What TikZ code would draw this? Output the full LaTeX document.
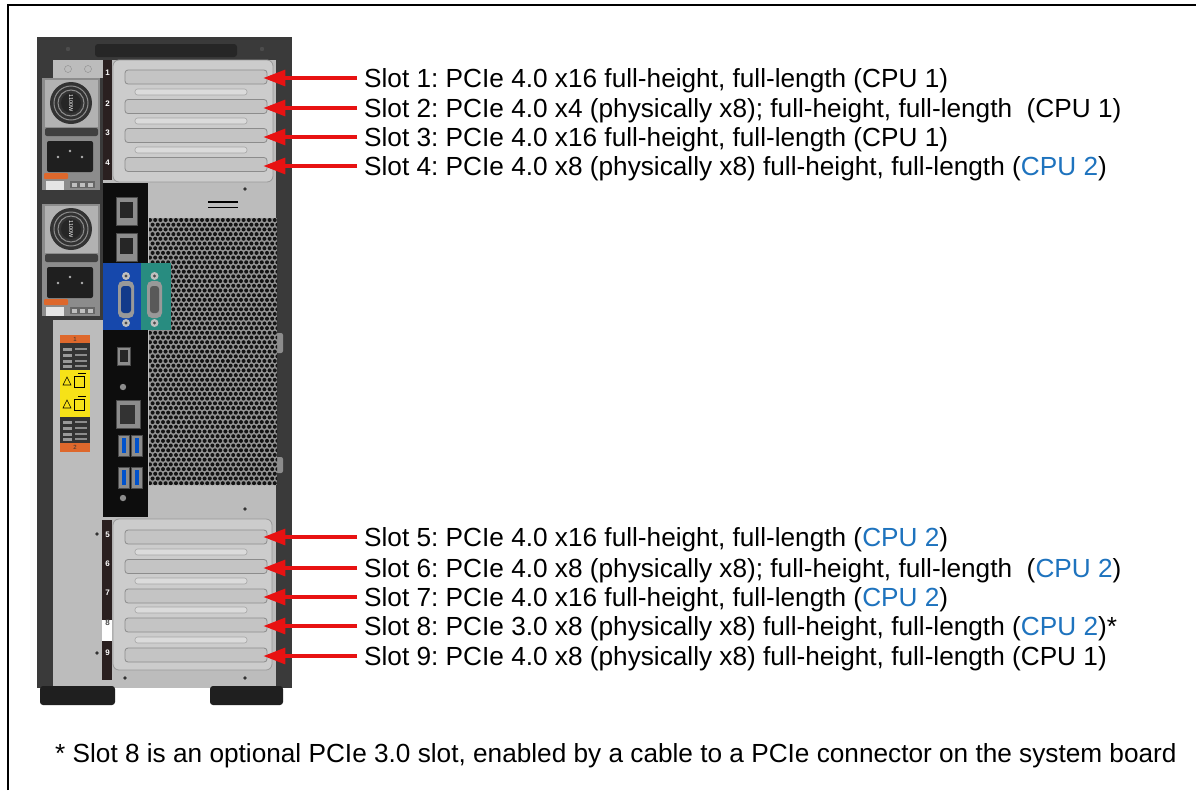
\documentclass[tikz,border=0pt]{standalone}
\usepackage{fontspec}
\setmainfont{Liberation Sans}
\usetikzlibrary{arrows.meta}
\frenchspacing
\definecolor{arrowred}{RGB}{232,18,18}
\definecolor{cpublue}{RGB}{30,115,190}
\definecolor{chdark}{RGB}{58,58,58}
\definecolor{chlight}{RGB}{188,188,188}
\definecolor{baygray}{RGB}{204,204,204}
\definecolor{bracketgray}{RGB}{196,196,196}
\definecolor{vgablue}{RGB}{22,72,172}
\definecolor{serteal}{RGB}{40,140,128}
\definecolor{stkorange}{RGB}{222,104,44}
\definecolor{stkyellow}{RGB}{246,226,24}
\definecolor{stripdark}{RGB}{42,32,32}
\newcommand{\cputwo}{\textcolor{cpublue}{CPU 2}}
\tikzset{
  lbl/.style={anchor=west, font=\fontsize{26.2}{30}\selectfont, text height=18.8pt, text depth=0pt, inner ysep=0pt, inner xsep=7pt},
  ptr/.style={draw=arrowred, line width=3.3pt, -{Triangle[length=22pt,width=16pt]}},
  bracket/.style={draw=black!45, fill=bracketgray, rounded corners=3pt, line width=0.8pt, minimum width=142pt, minimum height=14pt, inner sep=0pt},
  bar/.style={draw=black!35, fill=black!14, rounded corners=2.5pt, line width=0.6pt},
  slotnum/.style={text=white, font=\fontsize{8}{8}\selectfont\bfseries, inner sep=0pt},
  meshdot/.style={fill=black!92},
  port/.style={fill=black!45, draw=black!70, line width=0.5pt},
  screw/.style={fill=black!80},
}
\begin{document}
\begin{tikzpicture}[x=1pt,y=-1pt]
\useasboundingbox (0,0) rectangle (1196,790);
\fill[white] (0,0) rectangle (1196,790);
% frame
\draw[line width=2pt] (8,790) -- (8,5) -- (1196,5);

% ---------- chassis ----------
\fill[chdark] (37,37) rectangle (292,688);
\fill[chlight] (53,60) rectangle (276,688);
\fill[chdark] (37,60) rectangle (103,320);
% handle recess on top band
\fill[black!85, rounded corners=3pt] (95,44) rectangle (237,57);
\fill[black!70] (68,49) circle (2.2);
\fill[black!70] (262,49) circle (2.2);
\fill[chlight] (53,60) rectangle (103,78);
\draw[black!45] (68,69) circle (3.5);
\draw[black!45] (88,69) circle (3.5);
% right side details
\fill[black!45, rounded corners=2pt] (276,333) rectangle (283,353);
\fill[black!45, rounded corners=2pt] (276,457) rectangle (283,473);
% feet
\fill[black!88, rounded corners=3pt] (40,686) rectangle (115,705);
\fill[black!88, rounded corners=3pt] (210,686) rectangle (283,705);

% ---------- power supplies ----------
\foreach \dy in {0,126}{
  \begin{scope}[yshift=-\dy pt]
    \fill[black!45] (42,78) rectangle (100,190);
    \fill[black!30] (45,80) rectangle (98,127);
    \fill[black!80] (71,103) circle (21);
    \foreach \rr in {17,13}{ \draw[black!45, line width=1pt] (71,103) circle (\rr); }
    \fill[black!85] (71,103) circle (10);
    \node[rotate=-90, text=white, font=\fontsize{5.5}{6}\selectfont, inner sep=0pt] at (71,103) {1100W};
    \fill[black!75, rounded corners=2pt] (45,128) rectangle (98,136);
    \fill[black!88, rounded corners=2pt] (47,141) rectangle (93,172);
    \fill[white!70!black] (58,157) circle (1.3);
    \fill[white!70!black] (82,157) circle (1.3);
    \fill[white!70!black] (70,151) circle (1.3);
    \fill[stkorange, rounded corners=1pt] (44,173) rectangle (68,179);
    \fill[black!10] (46,181) rectangle (64,190);
    \fill[black!60] (70,181) rectangle (95,188);
    \foreach \q in {72,80,88}{ \fill[black!25] (\q,182.5) rectangle (\q+5,186.5); }
  \end{scope}
}

% ---------- sticker ----------
\fill[stkorange] (60,335) rectangle (90,343);
\node[font=\fontsize{6}{6}\selectfont, text=black!80, inner sep=0pt] at (75,339) {1};
\fill[black!80] (60,343) rectangle (90,370);
\foreach \yy in {348,354,360,365}{ \fill[black!40] (63,\yy) rectangle (72,\yy+3); \fill[black!45] (75,\yy) rectangle (87,\yy+2); }
\fill[stkyellow] (60,370) rectangle (90,393);
\fill[stkyellow] (60,393) rectangle (90,417);
\foreach \yy in {370,393}{
  \draw[black, line width=0.6pt] (63,\yy+15) -- (67,\yy+7) -- (71,\yy+15) -- cycle;
  \draw[black, line width=0.6pt] (74,\yy+6) rectangle (84,\yy+17);
  \draw[black, line width=0.8pt] (78,\yy+3) -- (86,\yy+3);
}
\fill[black!80] (60,417) rectangle (90,443);
\foreach \yy in {421,427,433,438}{ \fill[black!40] (63,\yy) rectangle (72,\yy+3); \fill[black!45] (75,\yy) rectangle (87,\yy+2); }
\fill[stkorange] (60,443) rectangle (90,452);
\node[font=\fontsize{6}{6}\selectfont, text=black!80, inner sep=0pt] at (75,447.5) {2};

% ---------- vent mesh ----------
\fill[black!42] (149,218) rectangle (277,485);
\begin{scope}
  \clip (149,218) rectangle (277,485);
  \foreach \r in {0,...,57}{
    \foreach \c in {0,...,25}{
      \fill[meshdot] ({150+\c*5.2+mod(\r,2)*2.6},{220+\r*4.7}) circle (2.0);
    }
  }
\end{scope}
\draw[black, line width=1.8pt] (208,202) -- (238,202);
\draw[black, line width=1.8pt] (208,207.5) -- (238,207.5);

% ---------- I/O panel ----------
\fill[black!95] (103,183) rectangle (148,517);
\foreach \yy in {197,233}{
  \fill[port] (116,\yy) rectangle (137,\yy+28);
  \fill[black!85] (120,\yy+5) rectangle (133,\yy+21);
}
\fill[vgablue] (103,263) rectangle (141,330);
\fill[serteal] (141,263) rectangle (171,330);
\fill[black!40, rounded corners=5pt] (118,281) rectangle (134,318);
\fill[vgablue!80!black, rounded corners=3pt] (121,286) rectangle (131,313);
\fill[black!40, rounded corners=5pt] (147,281) rectangle (162,318);
\fill[black!65, rounded corners=3pt] (150,286) rectangle (159,313);
\foreach \xx in {126,154.5}{
  \fill[black!25] (\xx,276) circle (4); \fill[black!70] (\xx,276) circle (1.6);
  \fill[black!25] (\xx,323) circle (4); \fill[black!70] (\xx,323) circle (1.6);
}
\fill[port] (117,347) rectangle (130,365);
\fill[black!85] (119.5,350) rectangle (127.5,362);
\fill[black!45] (123,387) circle (3.2);
\fill[port] (116,400) rectangle (140,428);
\fill[black!80] (120,405) rectangle (135,424);
\foreach \xx in {118,131}{
  \foreach \yy in {435,467}{
    \fill[port] (\xx,\yy) rectangle (\xx+11,\yy+21);
    \fill[blue!60!cyan!80!black] (\xx+3.5,\yy+3) rectangle (\xx+7.5,\yy+18);
  }
}
\fill[black!45] (123,498) circle (3.2);

% ---------- screws on body ----------
\foreach \p in {(245,189),(125,678),(245,678),(245,509),(97,534),(97,653)}{ \fill[screw] \p circle (1.8); }

% ---------- upper PCIe bay ----------
\fill[stripdark] (103,60) rectangle (112,180);
\node[slotnum] at (107.5,73) {1};
\node[slotnum] at (107.5,104) {2};
\node[slotnum] at (107.5,133) {3};
\node[slotnum] at (107.5,163) {4};
\draw[fill=baygray, draw=black!40, rounded corners=6pt, line width=0.8pt] (113,60) rectangle (273,182);
\draw[bar] (135,89) rectangle (247,95);
\draw[bar] (135,118) rectangle (247,124);
\draw[bar] (135,147) rectangle (247,153);
\node[bracket] (b1) at (196,77) {};
\node[bracket] (b2) at (196,106.5) {};
\node[bracket] (b3) at (196,135.5) {};
\node[bracket] (b4) at (196,164.5) {};

% ---------- lower PCIe bay ----------
\fill[stripdark] (102,520) rectangle (112,680);
\fill[white] (102,620) rectangle (112,641);
\node[slotnum] at (107.5,535) {5};
\node[slotnum] at (107.5,564) {6};
\node[slotnum] at (107.5,593) {7};
\node[slotnum, text=black!70] at (107.5,623) {8};
\node[slotnum] at (107.5,653) {9};
\draw[fill=baygray, draw=black!40, rounded corners=6pt, line width=0.8pt] (113,519) rectangle (272,670);
\draw[bar] (135,549) rectangle (247,555);
\draw[bar] (135,578) rectangle (247,584);
\draw[bar] (135,607) rectangle (247,613);
\draw[bar] (135,637) rectangle (247,643);
\node[bracket] (b5) at (196,537) {};
\node[bracket] (b6) at (196,566.5) {};
\node[bracket] (b7) at (196,596) {};
\node[bracket] (b8) at (196,625) {};
\node[bracket] (b9) at (196,655) {};

% ---------- labels ----------
\node[lbl] (t1) at (357,78)  {Slot 1: PCIe 4.0 x16 full-height, full-length (CPU 1)};
\node[lbl] (t2) at (357,108) {Slot 2: PCIe 4.0 x4 (physically x8); full-height, full-length\ \ (CPU 1)};
\node[lbl] (t3) at (357,137) {Slot 3: PCIe 4.0 x16 full-height, full-length (CPU 1)};
\node[lbl] (t4) at (357,166) {Slot 4: PCIe 4.0 x8 (physically x8) full-height, full-length (\cputwo)};
\node[lbl] (t5) at (357,537) {Slot 5: PCIe 4.0 x16 full-height, full-length (\cputwo)};
\node[lbl] (t6) at (357,568) {Slot 6: PCIe 4.0 x8 (physically x8); full-height, full-length\ \ (\cputwo)};
\node[lbl] (t7) at (357,597) {Slot 7: PCIe 4.0 x16 full-height, full-length (\cputwo)};
\node[lbl] (t8) at (357,626) {Slot 8: PCIe 3.0 x8 (physically x8) full-height, full-length (\cputwo)*};
\node[lbl] (t9) at (357,656) {Slot 9: PCIe 4.0 x8 (physically x8) full-height, full-length (CPU 1)};
\node[lbl, inner xsep=0pt] (foot) at (55,753) {* Slot 8 is an optional PCIe 3.0 slot, enabled by a cable to a PCIe connector on the system board};

% ---------- arrows ----------
\foreach \i in {1,...,9}{
  \draw[ptr] (t\i.west) -- ([xshift=-4pt]t\i.west -| b\i.east);
}
\end{tikzpicture}
\end{document}
